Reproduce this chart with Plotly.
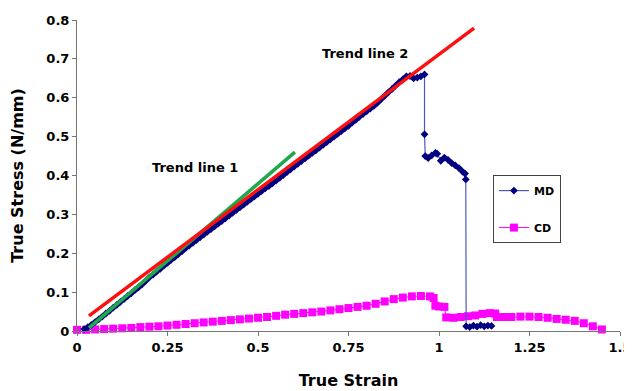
import plotly.graph_objects as go

# MD series (machine direction)
md_strain = [0.02, 0.03, 0.04, 0.05, 0.06, 0.07, 0.08, 0.09, 0.10, 0.11,
             0.12, 0.13, 0.14, 0.15, 0.16, 0.17, 0.18, 0.19, 0.20, 0.21,
             0.22, 0.23, 0.24, 0.25, 0.26, 0.27, 0.28, 0.29, 0.30, 0.31,
             0.32, 0.33, 0.34, 0.35, 0.36, 0.37, 0.38, 0.39, 0.40, 0.41,
             0.42, 0.43, 0.44, 0.45, 0.46, 0.47, 0.48, 0.49, 0.50, 0.51,
             0.52, 0.53, 0.54, 0.55, 0.56, 0.57, 0.58, 0.59, 0.60, 0.61,
             0.62, 0.63, 0.64, 0.65, 0.66, 0.67, 0.68, 0.69, 0.70, 0.71,
             0.72, 0.73, 0.74, 0.75, 0.76, 0.77, 0.78, 0.79, 0.80, 0.81,
             0.82, 0.83, 0.84, 0.85, 0.86, 0.87, 0.88, 0.89, 0.90, 0.91,
             0.92, 0.93, 0.94, 0.95, 0.96,
             0.96, 0.962, 0.97, 0.98, 0.99, 0.995, 1.005, 1.015, 1.025, 1.035,
             1.045, 1.055, 1.065, 1.072, 1.074,
             1.075, 1.085, 1.095, 1.105, 1.115, 1.125, 1.135, 1.145]
md_stress = [0.005, 0.010, 0.016, 0.023, 0.030, 0.037, 0.045, 0.052, 0.060, 0.067,
             0.075, 0.082, 0.090, 0.097, 0.105, 0.112, 0.120, 0.129, 0.138, 0.145,
             0.153, 0.160, 0.168, 0.175, 0.183, 0.190, 0.198, 0.205, 0.213, 0.220,
             0.227, 0.234, 0.241, 0.248, 0.255, 0.262, 0.269, 0.276, 0.283, 0.290,
             0.297, 0.304, 0.311, 0.318, 0.325, 0.332, 0.339, 0.346, 0.353, 0.360,
             0.367, 0.373, 0.380, 0.387, 0.394, 0.401, 0.409, 0.416, 0.423, 0.430,
             0.437, 0.444, 0.451, 0.458, 0.465, 0.472, 0.479, 0.486, 0.493, 0.500,
             0.507, 0.514, 0.521, 0.528, 0.536, 0.543, 0.551, 0.558, 0.565, 0.572,
             0.579, 0.587, 0.596, 0.605, 0.614, 0.622, 0.631, 0.640, 0.647, 0.655,
             0.656, 0.650, 0.652, 0.655, 0.660,
             0.506, 0.450, 0.445, 0.452, 0.458, 0.456, 0.438, 0.446, 0.440, 0.432,
             0.426, 0.419, 0.410, 0.405, 0.390,
             0.012, 0.010, 0.014, 0.011, 0.015, 0.012, 0.014, 0.013]

# CD series (cross direction)
cd_strain = [0.00, 0.025, 0.05, 0.075, 0.10, 0.125, 0.15, 0.175, 0.20, 0.225,
             0.25, 0.275, 0.30, 0.325, 0.35, 0.375, 0.40, 0.425, 0.45, 0.475,
             0.50, 0.525, 0.55, 0.575, 0.60, 0.625, 0.65, 0.675, 0.70, 0.725,
             0.75, 0.775, 0.80, 0.825, 0.85, 0.875, 0.90, 0.925, 0.95, 0.975,
             0.985, 0.99, 1.00, 1.015, 1.02, 1.04, 1.06, 1.08, 1.10, 1.12,
             1.14, 1.155, 1.16, 1.18, 1.20, 1.225, 1.25, 1.275, 1.30, 1.325,
             1.35, 1.375, 1.40, 1.425, 1.45]
cd_stress = [0.003, 0.003, 0.004, 0.005, 0.006, 0.007, 0.008, 0.010, 0.011, 0.012,
             0.014, 0.016, 0.018, 0.020, 0.022, 0.024, 0.026, 0.028, 0.030, 0.032,
             0.034, 0.036, 0.039, 0.042, 0.044, 0.046, 0.048, 0.050, 0.053, 0.056,
             0.059, 0.062, 0.065, 0.070, 0.076, 0.082, 0.086, 0.089, 0.090, 0.089,
             0.085, 0.065, 0.063, 0.062, 0.035, 0.034, 0.036, 0.038, 0.040, 0.044,
             0.046, 0.045, 0.036, 0.036, 0.036, 0.037, 0.037, 0.036, 0.034, 0.031,
             0.029, 0.026, 0.020, 0.012, 0.004]

# Trend lines (endpoints)
trend1_strain = [0.033, 0.602]
trend1_stress = [0.008, 0.460]
trend2_strain = [0.033, 1.097]
trend2_stress = [0.039, 0.779]

x_ticks = [0, 0.25, 0.5, 0.75, 1, 1.25, 1.5]
x_tick_labels = ["0", "0.25", "0.5", "0.75", "1", "1.25", "1.5"]
y_ticks = [0, 0.1, 0.2, 0.3, 0.4, 0.5, 0.6, 0.7, 0.8]
y_tick_labels = ["0", "0.1", "0.2", "0.3", "0.4", "0.5", "0.6", "0.7", "0.8"]

FONT = "DejaVu Sans, Verdana, sans-serif"

fig = go.Figure()

fig.add_trace(go.Scatter(
    x=cd_strain, y=cd_stress, name="<b>CD</b>", mode="lines+markers",
    line=dict(color="#ff00ff", width=1),
    marker=dict(symbol="square", size=8, color="#ff00ff"),
    cliponaxis=False, legendgroup="cd", legendrank=2))

fig.add_trace(go.Scatter(
    x=md_strain, y=md_stress, name="<b>MD</b>", mode="lines+markers",
    line=dict(color="#4a58c0", width=1.2),
    marker=dict(symbol="diamond", size=6, color="#000080"),
    cliponaxis=False, legendgroup="md", legendrank=1))

fig.add_trace(go.Scatter(
    x=trend1_strain, y=trend1_stress, mode="lines", showlegend=False,
    line=dict(color="#1fa84c", width=3.5)))

fig.add_trace(go.Scatter(
    x=trend2_strain, y=trend2_stress, mode="lines", showlegend=False,
    line=dict(color="#ff1010", width=3.5)))

fig.add_annotation(x=0.326, y=0.42, text="<b>Trend line 1</b>", showarrow=False,
                   font=dict(family=FONT, size=13, color="black"))
fig.add_annotation(x=0.795, y=0.715, text="<b>Trend line 2</b>", showarrow=False,
                   font=dict(family=FONT, size=13, color="black"))

# the page body adds an 8px margin, so the figure is 8px smaller and shifted
fig.update_layout(
    width=624, height=383,
    margin=dict(l=69, r=12, t=12, b=60),
    paper_bgcolor="white", plot_bgcolor="white",
    font=dict(family=FONT, color="black"),
    legend=dict(x=0.766, y=0.392, xanchor="left", yanchor="middle",
                bordercolor="#444444", borderwidth=1, bgcolor="white",
                font=dict(family=FONT, size=11, color="black"),
                tracegroupgap=18, itemwidth=30, traceorder="grouped"),
    xaxis=dict(range=[0, 1.5], tickvals=x_ticks,
               ticktext=[f"<b>{t}</b>" for t in x_tick_labels],
               showgrid=False, zeroline=False, showline=True, linecolor="#777777",
               linewidth=1, ticks="outside", ticklen=4, tickcolor="#777777",
               automargin=False,
               tickfont=dict(family=FONT, size=13, color="black"),
               title=dict(text="<b>True Strain</b>", font=dict(family=FONT, size=16, color="black"),
                          standoff=21)),
    yaxis=dict(range=[0, 0.8], tickvals=y_ticks,
               ticktext=[f"<b>{t}</b>" for t in y_tick_labels],
               showgrid=False, zeroline=False, showline=True, linecolor="#777777",
               linewidth=1, ticks="outside", ticklen=4, tickcolor="#777777",
               automargin=False,
               tickfont=dict(family=FONT, size=13, color="black"),
               title=dict(text="<b>True Stress (N/mm)</b>", font=dict(family=FONT, size=16, color="black"),
                          standoff=29)),
)

fig.write_html("out.html")
